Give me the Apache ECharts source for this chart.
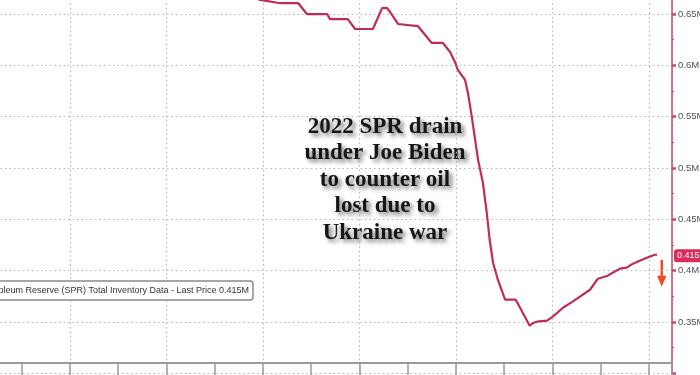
<!DOCTYPE html>
<html><head><meta charset="utf-8">
<script src="https://cdn.jsdelivr.net/npm/echarts@6/dist/echarts.min.js"></script>
<style>html,body{margin:0;padding:0;background:#fff}#c{width:700px;height:375px}</style>
</head><body><div id="c"></div>
<script>
// ---- data ----
const years = [2017.75, 2017.92, 2018.04, 2018.30, 2018.39, 2018.73, 2018.91, 2019.33, 2019.39, 2019.76,
  2019.91, 2020.28, 2020.47, 2020.57, 2020.62, 2020.80, 2021.21, 2021.50, 2021.73, 2021.88,
  2021.98, 2022.04, 2022.19, 2022.25, 2022.33, 2022.39, 2022.46, 2022.56, 2022.64, 2022.70,
  2022.77, 2022.87, 2023.02, 2023.24, 2023.33, 2023.53, 2023.60, 2023.68, 2023.89, 2024.01,
  2024.22, 2024.42, 2024.78, 2024.94, 2025.15, 2025.25, 2025.40, 2025.54, 2025.67, 2025.81,
  2025.96, 2026.12, 2026.17];
const spr = [0.672, 0.664, 0.663, 0.661, 0.6607, 0.6607, 0.650, 0.650, 0.645, 0.645,
  0.6354, 0.6354, 0.6558, 0.656, 0.653, 0.6403, 0.6383, 0.6218, 0.6218, 0.613,
  0.6033, 0.5955, 0.5858, 0.5731, 0.5498, 0.5303, 0.5079, 0.4856, 0.4564, 0.4301,
  0.4077, 0.3912, 0.3717, 0.3717, 0.3639, 0.3464, 0.349, 0.3503, 0.3513, 0.3552,
  0.3639, 0.3698, 0.3814, 0.3921, 0.3951, 0.3980, 0.4019, 0.4029, 0.4068, 0.4097,
  0.4126, 0.4155, 0.4155];
const yTicks = [0.35, 0.4, 0.45, 0.5, 0.55, 0.6, 0.65];
const yTickLabels = ['0.35M', '0.4M', '0.45M', '0.5M', '0.55M', '0.6M', '0.65M'];
const seriesName = 'US Strategic Petroleum Reserve (SPR) Total Inventory Data';
const lastPriceLabel = '0.415M';
const noteLines = ['2022 SPR drain', 'under Joe Biden', 'to counter oil', 'lost due to', 'Ukraine war'];

const lineColor = '#bf2d55';
const axisPink = '#c8486f';
const gridStyle = { color: '#b4b4b4', width: 1.2, type: [1.5, 3] };

const chart = echarts.init(document.getElementById('c'), null, { renderer: 'canvas' });
const points = years.map((y, i) => [y, spr[i]]);

chart.setOption({
  animation: false,
  backgroundColor: '#fff',
  grid: { left: -26.5, right: 28, top: -37.3, bottom: 1.7, containLabel: false, outerBoundsMode: 'none' },
  legend: {
    data: [seriesName], right: 447, top: 281, align: 'left', selectedMode: false,
    itemWidth: 0, itemHeight: 0, icon: 'rect',
    formatter: n => n + ' - Last Price ' + lastPriceLabel,
    borderColor: '#8a8a8a', borderWidth: 1.5, borderRadius: 3, padding: [5, 4, 5, 0],
    backgroundColor: '#fff',
    textStyle: { fontSize: 9, color: '#333', fontFamily: 'Liberation Sans' }
  },
  xAxis: {
    type: 'value', min: 2012, max: 2026.48, interval: 2, offset: -10.3,
    axisLine: { show: true, lineStyle: { color: '#9a9a9a', width: 2 } },
    axisTick: { show: true, length: 14, lineStyle: { color: '#9a9a9a', width: 1.5 } },
    minorTick: { show: true, splitNumber: 2, length: 14, lineStyle: { color: '#9a9a9a', width: 1.5 } },
    splitLine: { show: true, lineStyle: gridStyle },
    axisLabel: { show: false }
  },
  yAxis: {
    type: 'value', position: 'right', min: 0.3, max: 0.7, interval: 0.05,
    axisLine: { show: true, lineStyle: { color: axisPink, width: 1.5 } },
    axisTick: { show: true, length: 4, lineStyle: { color: axisPink, width: 2.5 } },
    minorTick: { show: true, splitNumber: 2, length: 2, lineStyle: { color: axisPink, width: 1 } },
    splitLine: { show: true, lineStyle: gridStyle },
    axisLabel: {
      show: true, margin: 6, fontSize: 9.5, color: '#505050', fontFamily: 'Liberation Sans',
      showMinLabel: false, showMaxLabel: false,
      formatter: v => {
        const i = yTicks.findIndex(t => Math.abs(t - v) < 1e-6);
        return i >= 0 ? yTickLabels[i] : '';
      }
    }
  },
  series: [{
    name: seriesName, type: 'line', data: points, showSymbol: false, symbol: 'none',
    lineStyle: { color: lineColor, width: 2.2 }, itemStyle: { color: lineColor },
    clip: true
  }],
  graphic: [{
    id: 'note', type: 'text', x: 385, y: 180,
    style: {
      text: noteLines.join('\n'), textAlign: 'center', textVerticalAlign: 'middle',
      font: 'bold 23px "Liberation Serif"', lineHeight: 26.5, fill: '#161616',
      textShadowColor: 'rgba(0,0,0,0.55)', textShadowBlur: 4, textShadowOffsetX: 3, textShadowOffsetY: 3
    }
  }]
});

// last price tag and arrow, positioned from the data through the axes
const last = points[points.length - 1];
const p = chart.convertToPixel({ gridIndex: 0 }, last);
const axisX = chart.convertToPixel({ gridIndex: 0 }, [2026.48, last[1]])[0];
chart.setOption({
  graphic: [{
    id: 'lastTag', type: 'text', x: axisX + 2, y: p[1] + 1,
    style: {
      text: lastPriceLabel, fill: '#fff', font: '9px "Liberation Sans"', textVerticalAlign: 'middle',
      backgroundColor: '#d92b5c', padding: [2, 4, 2, 3], borderRadius: 3
    }
  }, {
    id: 'arrowShaft', type: 'rect', shape: { x: axisX - 11.5, y: p[1] + 5, width: 2.5, height: 18 },
    style: { fill: '#f04e2a' }
  }, {
    id: 'arrowHead', type: 'polygon',
    shape: { points: [[axisX - 15, p[1] + 21], [axisX - 5.5, p[1] + 21], [axisX - 10.3, p[1] + 32]] },
    style: { fill: '#f04e2a' }
  }]
});
</script>
</body></html>
